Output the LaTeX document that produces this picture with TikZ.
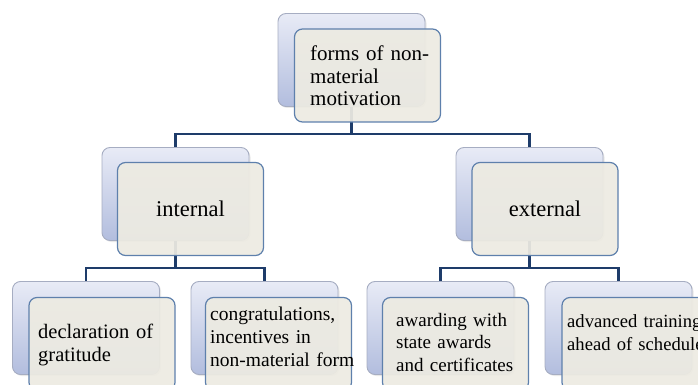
\documentclass[tikz,border=0pt]{standalone}
\usepackage{fontspec}
\setmainfont{Liberation Serif}
\usetikzlibrary{shadows}
\definecolor{backtop}{HTML}{E8EBF6}
\definecolor{backbot}{HTML}{B2BDDE}
\definecolor{backline}{HTML}{A6ADC2}
\definecolor{frontfill}{HTML}{EDEBE2}
\definecolor{frontline}{HTML}{5E80AC}
\definecolor{conncol}{HTML}{1E3C6A}
\begin{document}
\begin{tikzpicture}[x=1pt,y=-1pt,
  backbox/.style={draw=backline, line width=0.9pt, rounded corners=8pt,
    top color=backtop, bottom color=backbot, inner sep=0pt,
    minimum width=147pt, minimum height=93pt,
    drop shadow={opacity=0.18, shadow xshift=1.5pt, shadow yshift=-1.5pt}},
  frontbox/.style={draw=frontline, line width=1.2pt, rounded corners=8pt,
    fill=frontfill, fill opacity=0.93, inner sep=0pt,
    minimum width=146pt, minimum height=93pt},
  link/.style={draw=conncol, line width=2.4pt},
  txt/.style={anchor=base west, inner sep=0pt, text width=200pt, align=left, text=black},
  midtxt/.style={inner sep=0pt, text=black, font=\fontsize{22.5}{25}\selectfont}
]
\clip (0,0) rectangle (698,385);
% level 1
\node[backbox] (b0) at (351.5,60) {};
% level 2
\node[backbox] (bl) at (175.5,194) {};
\node[backbox] (br) at (529.5,194) {};
% level 3
\node[backbox] (b1) at (86,328) {};
\node[backbox] (b2) at (264.5,328) {};
\node[backbox] (b3) at (440.5,328) {};
\node[backbox] (b4) at (618.5,328) {};
% connectors
\coordinate (j0) at (351.5,134);
\coordinate (jl) at (175.5,268);
\coordinate (jr) at (529.5,268);
\draw[link] (b0.south) -- (j0);
\draw[link] (j0) -| (bl.north);
\draw[link] (j0) -| (br.north);
\draw[link] (bl.south) -- (jl);
\draw[link] (jl) -| (b1.north);
\draw[link] (jl) -| (b2.north);
\draw[link] (br.south) -- (jr);
\draw[link] (jr) -| (b3.north);
\draw[link] (jr) -| (b4.north);
% front boxes
\node[frontbox] (f0) at (367.5,75.5) {};
\node[frontbox] (fl) at (190.5,209) {};
\node[frontbox] (fr) at (545,209) {};
\node[frontbox] (f1) at (102,344) {};
\node[frontbox] (f2) at (278.5,344) {};
\node[frontbox] (f3) at (455.5,344) {};
\node[frontbox] (f4) at (635,344) {};
% texts
\node[txt, font=\fontsize{21}{22.5}\selectfont] (t0) at (310,61) {forms of non-\\material\\motivation};
\node[midtxt] (tl) at (fl.center) {internal};
\node[midtxt] (tr) at (fr.center) {external};
\node[txt, font=\fontsize{20.5}{23}\selectfont] (t1) at (38,338) {declaration of\\gratitude};
\node[txt, font=\fontsize{19.5}{23}\selectfont] (t2) at (210,320) {congratulations,\\incentives in\\non-material form};
\node[txt, font=\fontsize{19}{22.5}\selectfont] (t3) at (396,326) {awarding with\\state awards\\and certificates};
\node[txt, font=\fontsize{18.6}{23}\selectfont] (t4) at (567,327) {advanced training\\ahead of schedule};
\end{tikzpicture}
\end{document}
